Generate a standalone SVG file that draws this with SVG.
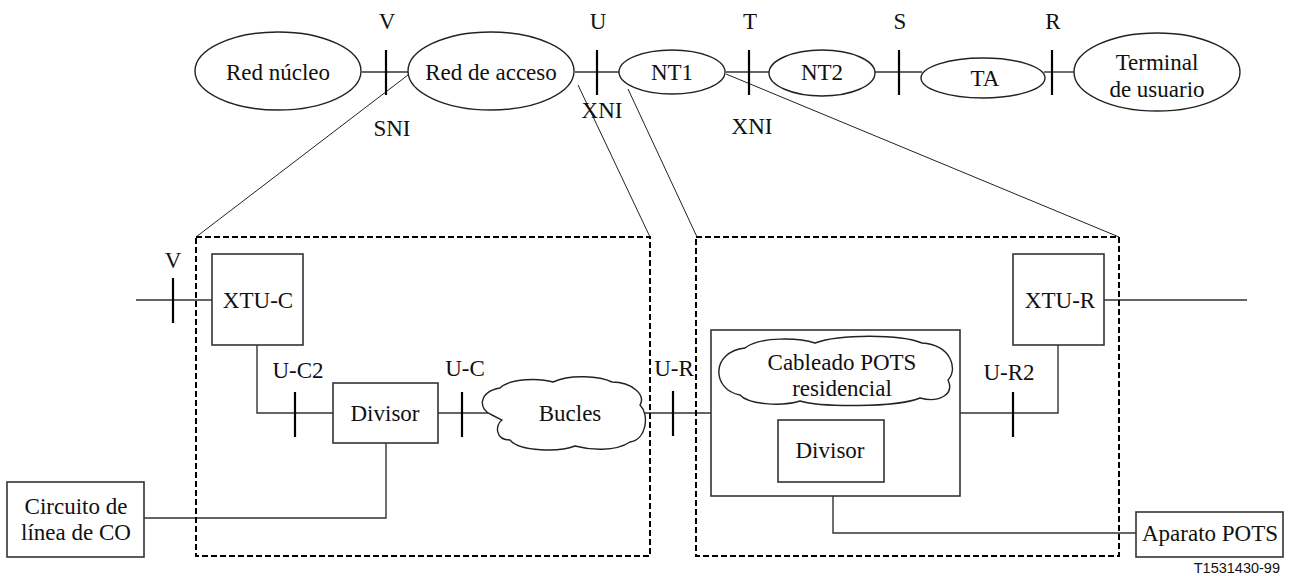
<svg xmlns="http://www.w3.org/2000/svg" width="1290" height="576" viewBox="0 0 1290 576">
<style>
.t{font-family:"Liberation Serif","Times New Roman",serif;font-size:23px;fill:#111;text-anchor:middle}
.s{font-family:"Liberation Sans",Arial,sans-serif;font-size:14.5px;fill:#111;text-anchor:end}
.sh{fill:#fff;stroke:#222;stroke-width:1.4}
.bx{fill:#fff;stroke:#333;stroke-width:1.6}
.ln{fill:none;stroke:#333;stroke-width:1.4}
.tn{fill:none;stroke:#222;stroke-width:1}
.tk{stroke:#000;stroke-width:2.2}
.db{fill:none;stroke:#000;stroke-width:2;stroke-dasharray:6 3}
.dot{fill:none;stroke:#555;stroke-width:1;stroke-dasharray:1.5 1.5}
.dsh{fill:none;stroke:#222;stroke-width:1.3;stroke-dasharray:11 7}
</style>
<g id="connectors">
<line class="ln" x1="362" y1="72" x2="408" y2="72"/>
<line class="ln" x1="575" y1="72" x2="619" y2="72"/>
<line class="ln" x1="726" y1="72" x2="770" y2="72"/>
<line class="ln" x1="875" y1="72" x2="922" y2="72"/>
<line class="ln" x1="1044" y1="72" x2="1074" y2="72"/>
<line class="tn" x1="408" y1="75" x2="196" y2="237"/>
<line class="tn" x1="578" y1="85" x2="650" y2="237"/>
<line class="tn" x1="628" y1="89" x2="697" y2="237"/>
<line class="tn" x1="726" y1="74" x2="1119" y2="237"/>
<polyline class="ln" points="136,300 212,300"/>
<polyline class="ln" points="257,345 257,413 333,413"/>
<line class="ln" x1="438" y1="413" x2="490" y2="413"/>
<line class="ln" x1="642" y1="413" x2="711" y2="413"/>
<polyline class="ln" points="386,443 386,518 144,518"/>
<polyline class="ln" points="960,413 1058,413 1058,345"/>
<line class="ln" x1="1104" y1="300" x2="1247" y2="300"/>
<polyline class="ln" points="833,496 833,533 1136,533"/>
<line class="dot" x1="711" y1="413" x2="740" y2="395"/>
<line class="dot" x1="960" y1="413" x2="928" y2="395"/>
<line class="dsh" x1="711" y1="413" x2="778" y2="443"/>
<line class="dsh" x1="960" y1="413" x2="884" y2="442"/>
<line class="tk" x1="386" y1="50" x2="386" y2="95"/>
<line class="tk" x1="597" y1="50" x2="597" y2="95"/>
<line class="tk" x1="749" y1="50" x2="749" y2="95"/>
<line class="tk" x1="899" y1="50" x2="899" y2="95"/>
<line class="tk" x1="1052" y1="50" x2="1052" y2="95"/>
<line class="tk" x1="173" y1="278" x2="173" y2="323"/>
<line class="tk" x1="295" y1="392" x2="295" y2="437"/>
<line class="tk" x1="462" y1="392" x2="462" y2="437"/>
<line class="tk" x1="673" y1="391" x2="673" y2="436"/>
<line class="tk" x1="1013" y1="392" x2="1013" y2="437"/>
</g>
<g id="frames">
<rect class="db" x="196" y="237" width="454" height="319"/>
<rect class="db" x="696" y="237" width="423" height="319"/>
</g>
<g id="red-nucleo"><ellipse class="sh" cx="278" cy="71" rx="83" ry="39"/><text class="t" x="278" y="80">Red núcleo</text></g>
<g id="red-acceso"><ellipse class="sh" cx="491" cy="71" rx="83" ry="39"/><text class="t" x="491" y="80">Red de acceso</text></g>
<g id="nt1"><ellipse class="sh" cx="672" cy="72" rx="53" ry="22"/><text class="t" x="672" y="80">NT1</text></g>
<g id="nt2"><ellipse class="sh" cx="822" cy="73" rx="53" ry="23"/><text class="t" x="822" y="80">NT2</text></g>
<g id="ta"><ellipse class="sh" cx="983" cy="78" rx="62" ry="20"/><text class="t" x="985" y="86">TA</text></g>
<g id="terminal"><ellipse class="sh" cx="1157" cy="72" rx="83" ry="39"/><text class="t" x="1157" y="70">Terminal</text><text class="t" x="1157" y="97">de usuario</text></g>
<g id="labels">
<text class="t" x="387" y="29">V</text>
<text class="t" x="598" y="29">U</text>
<text class="t" x="750" y="29">T</text>
<text class="t" x="900" y="29">S</text>
<text class="t" x="1053" y="29">R</text>
<text class="t" x="392" y="136">SNI</text>
<text class="t" x="602" y="118">XNI</text>
<text class="t" x="752" y="134">XNI</text>
<text class="t" x="173" y="268">V</text>
<text class="t" x="298" y="378">U-C2</text>
<text class="t" x="465" y="376">U-C</text>
<text class="t" x="674" y="376">U-R</text>
<text class="t" x="1009" y="380">U-R2</text>
<text class="s" x="1280" y="573">T1531430-99</text>
</g>
<g id="xtu-c"><rect class="bx" x="212" y="254" width="91" height="91"/><text class="t" x="258" y="308">XTU-C</text></g>
<g id="divisor-c"><rect class="bx" x="333" y="383" width="105" height="60"/><text class="t" x="385" y="421">Divisor</text></g>
<g id="bucles"><path class="sh" d="M492,415 C478,410 478,392 500,388 C510,378 540,378 553,382 C570,374 600,376 612,382 C632,382 646,395 640,405 C650,415 646,440 630,442 C615,452 590,450 575,446 C560,452 520,452 510,440 C495,440 495,425 502,420 Z"/><text class="t" x="570" y="421">Bucles</text></g>
<g id="circuito"><rect class="bx" x="7" y="482" width="137" height="75"/><text class="t" x="76" y="514">Circuito de</text><text class="t" x="76" y="540">línea de CO</text></g>
<g id="residencial"><rect class="bx" x="711" y="330" width="249" height="166"/>
<path class="sh" d="M740,395 C712,390 710,352 745,348 C760,336 800,338 815,343 C840,334 900,334 922,343 C952,345 958,370 948,380 C955,395 938,403 920,398 C895,408 820,407 800,401 C780,407 748,404 740,395 Z"/>
<text class="t" x="842" y="370">Cableado POTS</text><text class="t" x="842" y="396">residencial</text></g>
<g id="divisor-r"><rect class="bx" x="778" y="420" width="106" height="62"/><text class="t" x="830" y="458">Divisor</text></g>
<g id="xtu-r"><rect class="bx" x="1013" y="254" width="91" height="91"/><text class="t" x="1060" y="308">XTU-R</text></g>
<g id="aparato"><rect class="bx" x="1136" y="512" width="147" height="45"/><text class="t" x="1210" y="541">Aparato POTS</text></g>
</svg>
